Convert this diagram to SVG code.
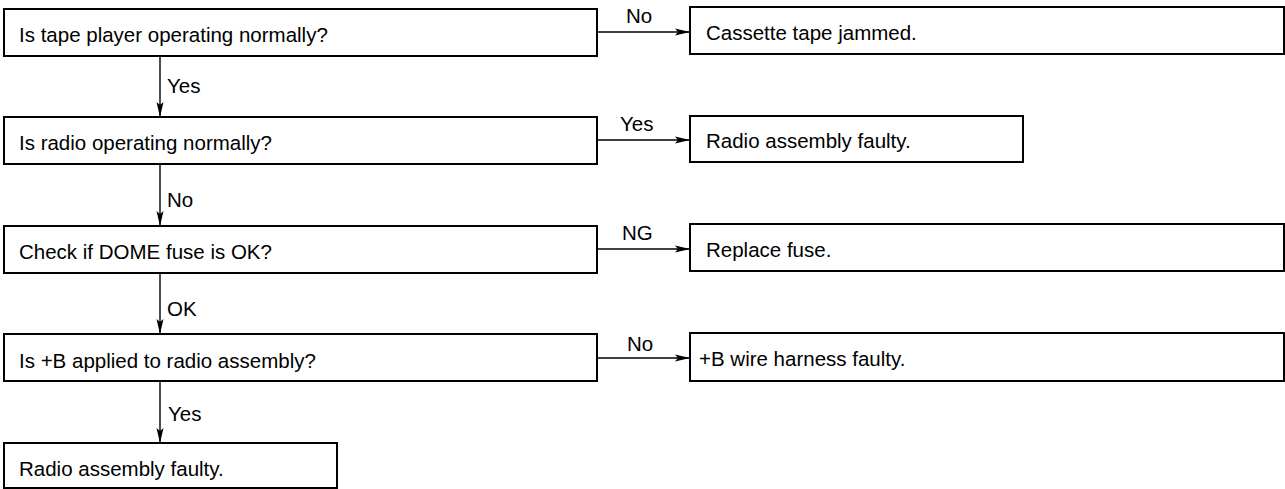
<svg xmlns="http://www.w3.org/2000/svg" width="1285" height="489" viewBox="0 0 1285 489">
<defs>
<style>
.box{fill:#fff;stroke:#000;stroke-width:2}
.t{font-family:"Liberation Sans",Arial,sans-serif;font-size:20.5px;fill:#000}
.c{stroke:#000;stroke-width:1.4;fill:none;marker-end:url(#ah)}
</style>
<marker id="ah" viewBox="0 0 15 8" refX="15" refY="4" markerWidth="15" markerHeight="8" markerUnits="userSpaceOnUse" orient="auto">
<path d="M0,0.5 L15,4 L0,7.5 L3,4 Z" fill="#000"/>
</marker>
</defs>
<rect width="1285" height="489" fill="#fff"/>
<g id="connectors">
<line class="c" x1="597" y1="32" x2="690" y2="32"/>
<text class="t" x="626" y="23">No</text>
<line class="c" x1="160" y1="56" x2="160" y2="117"/>
<text class="t" x="167" y="93">Yes</text>
<line class="c" x1="597" y1="140" x2="690" y2="140"/>
<text class="t" x="620" y="131">Yes</text>
<line class="c" x1="160" y1="164" x2="160" y2="226"/>
<text class="t" x="167" y="207">No</text>
<line class="c" x1="597" y1="249" x2="690" y2="249"/>
<text class="t" x="622" y="240">NG</text>
<line class="c" x1="160" y1="273" x2="160" y2="334"/>
<text class="t" x="167" y="316">OK</text>
<line class="c" x1="597" y1="358" x2="690" y2="358"/>
<text class="t" x="627" y="351">No</text>
<line class="c" x1="160" y1="381" x2="160" y2="443"/>
<text class="t" x="168" y="421">Yes</text>
</g>
<g id="q1"><rect class="box" x="4" y="9" width="593" height="47"/><text class="t" x="19" y="42">Is tape player operating normally?</text></g>
<g id="r1"><rect class="box" x="690" y="7" width="594" height="47"/><text class="t" x="706" y="40">Cassette tape jammed.</text></g>
<g id="q2"><rect class="box" x="4" y="117" width="593" height="47"/><text class="t" x="19" y="150">Is radio operating normally?</text></g>
<g id="r2"><rect class="box" x="690" y="116" width="333" height="46"/><text class="t" x="706" y="148">Radio assembly faulty.</text></g>
<g id="q3"><rect class="box" x="4" y="226" width="593" height="47"/><text class="t" x="19" y="259">Check if DOME fuse is OK?</text></g>
<g id="r3"><rect class="box" x="690" y="224" width="594" height="47"/><text class="t" x="706" y="257">Replace fuse.</text></g>
<g id="q4"><rect class="box" x="4" y="334" width="593" height="47"/><text class="t" x="19" y="368">Is +B applied to radio assembly?</text></g>
<g id="r4"><rect class="box" x="690" y="333" width="594" height="48"/><text class="t" x="699" y="366">+B wire harness faulty.</text></g>
<g id="r5"><rect class="box" x="4" y="443" width="333" height="45"/><text class="t" x="19" y="476">Radio assembly faulty.</text></g>
</svg>
